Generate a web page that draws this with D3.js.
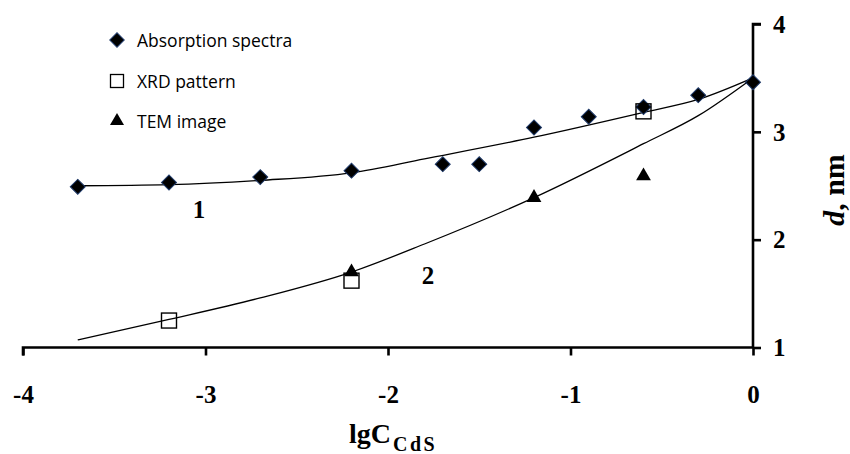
<!DOCTYPE html>
<html><head><meta charset="utf-8">
<script src="https://cdn.jsdelivr.net/npm/d3@7"></script>
<style>
body{margin:0;background:#fff}
.ax text{font-family:"Liberation Serif",serif;font-weight:bold;font-size:25px;fill:#000}
</style>
</head><body>
<svg id="c" width="850" height="454"></svg>
<script>
// Data
const absX = [-3.7, -3.2, -2.7, -2.2, -1.7, -1.5, -1.2, -0.9, -0.6, -0.3, 0];
const absY = [2.49, 2.53, 2.58, 2.64, 2.70, 2.70, 3.04, 3.14, 3.23, 3.34, 3.46];
const xrdX = [-3.2, -2.2, -0.6];
const xrdY = [1.25, 1.62, 3.19];
const temX = [-2.2, -1.2, -0.6];
const temY = [1.70, 2.39, 2.59];
const fit1X = [-3.7, -3.2, -2.7, -2.2, -1.8, -1.2, -0.6, -0.3, 0];
const fit1Y = [2.50, 2.51, 2.55, 2.62, 2.75, 2.95, 3.18, 3.30, 3.50];
const fit2X = [-3.7, -3.2, -2.7, -2.2, -1.8, -1.2, -0.6, -0.3, 0];
const fit2Y = [1.07, 1.26, 1.46, 1.70, 1.96, 2.39, 2.89, 3.15, 3.50];
const xTicks = [-4, -3, -2, -1, 0];
const yTicks = [1, 2, 3, 4];
const legendLabels = ["Absorption spectra", "XRD pattern", "TEM image"];

const svg = d3.select("#c");
const x = d3.scaleLinear().domain([-4, 0]).range([23, 753]);
const y = d3.scaleLinear().domain([1, 4]).range([347.5, 24]);

// curves
const line = d3.line().x(d => x(d[0])).y(d => y(d[1])).curve(d3.curveMonotoneX);
svg.append("path").datum(d3.zip(fit1X, fit1Y)).attr("d", line)
  .attr("fill", "none").attr("stroke", "#000").attr("stroke-width", 1.3);
svg.append("path").datum(d3.zip(fit2X, fit2Y)).attr("d", line)
  .attr("fill", "none").attr("stroke", "#000").attr("stroke-width", 1.3);

// axes
const xAxis = svg.append("g").attr("class", "ax").attr("transform", `translate(0,${y(1)})`)
  .call(d3.axisBottom(x).tickValues(xTicks).tickSize(8).tickFormat(d => d === 0 ? "0" : "-" + Math.abs(d)));
const yAxis = svg.append("g").attr("class", "ax").attr("transform", `translate(${x(0)},0)`)
  .call(d3.axisRight(y).tickValues(yTicks).tickSize(8).tickFormat(d3.format("d")));
[xAxis, yAxis].forEach(g => {
  g.attr("font-family", "Liberation Serif").attr("font-size", 25).attr("font-weight", "bold");
  g.select(".domain").attr("stroke", "#000").attr("stroke-width", 2.6);
  g.selectAll(".tick line").attr("stroke", "#000").attr("stroke-width", 2.6);
  g.selectAll(".tick text").attr("fill", "#000");
});
xAxis.selectAll(".domain").attr("d", `M${x(-4)},8V0H${x(0)}`);
yAxis.selectAll(".domain").attr("d", `M8,${y(4)}H0V${y(1)}`);
xAxis.selectAll(".tick text").attr("y", 55).attr("dy", 0);
yAxis.selectAll(".tick text").attr("x", 20).attr("dy", "0.33em");

// markers
const diamond = d3.symbol().type(d3.symbolSquare).size(112);
const tri = d3.symbol().type(d3.symbolTriangle).size(95);
svg.append("g").selectAll("path").data(d3.zip(temX, temY)).join("path")
  .attr("d", tri).attr("transform", d => `translate(${x(d[0])},${y(d[1])})`).attr("fill", "#000");
svg.append("g").selectAll("path").data(d3.zip(absX, absY)).join("path")
  .attr("d", diamond).attr("transform", d => `translate(${x(d[0])},${y(d[1])}) rotate(45)`)
  .attr("fill", "#000").attr("stroke", "#1f3a6a").attr("stroke-width", 1);
svg.append("g").selectAll("rect").data(d3.zip(xrdX, xrdY)).join("rect")
  .attr("x", d => x(d[0]) - 7.5).attr("y", d => y(d[1]) - 7.5).attr("width", 15).attr("height", 15)
  .attr("fill", "none").attr("stroke", "#000").attr("stroke-width", 1.4);

// curve labels
svg.append("text").attr("x", 199).attr("y", 218).attr("text-anchor", "middle")
  .attr("font-family", "Liberation Serif").attr("font-weight", "bold").attr("font-size", 25).text("1");
svg.append("text").attr("x", 428).attr("y", 284).attr("text-anchor", "middle")
  .attr("font-family", "Liberation Serif").attr("font-weight", "bold").attr("font-size", 25).text("2");

// legend
const lg = svg.append("g");
const ly = [40, 81, 121];
lg.append("path").attr("d", d3.symbol().type(d3.symbolSquare).size(105)).attr("transform", `translate(117,${ly[0]}) rotate(45)`).attr("fill", "#000").attr("stroke", "#1f3a6a");
lg.append("rect").attr("x", 110.5).attr("y", ly[1] - 6.5).attr("width", 13).attr("height", 13)
  .attr("fill", "none").attr("stroke", "#000").attr("stroke-width", 1.3);
lg.append("path").attr("d", d3.symbol().type(d3.symbolTriangle).size(85)).attr("transform", `translate(117,${ly[2]})`).attr("fill", "#000");
lg.selectAll("text").data(legendLabels).join("text")
  .attr("x", 137).attr("y", (d, i) => ly[i] + 7)
  .attr("font-family", "Open Sans").attr("font-size", 17.5).attr("fill", "#000").text(d => d);

// axis titles
const xt = svg.append("text").attr("x", 349).attr("y", 443)
  .attr("font-family", "Liberation Serif").attr("font-weight", "bold").attr("fill", "#000");
xt.append("tspan").attr("font-size", 28).text("lgC");
xt.append("tspan").attr("font-size", 20).attr("dy", 8).attr("dx", 2).attr("letter-spacing", 2.5).text("CdS");
const yt = svg.append("text").attr("transform", "translate(844,190) rotate(-90)")
  .attr("text-anchor", "middle").attr("font-family", "Liberation Serif").attr("font-weight", "bold")
  .attr("font-size", 30).attr("fill", "#000");
yt.append("tspan").attr("font-style", "italic").text("d");
yt.append("tspan").text(", nm");
</script>
</body></html>
